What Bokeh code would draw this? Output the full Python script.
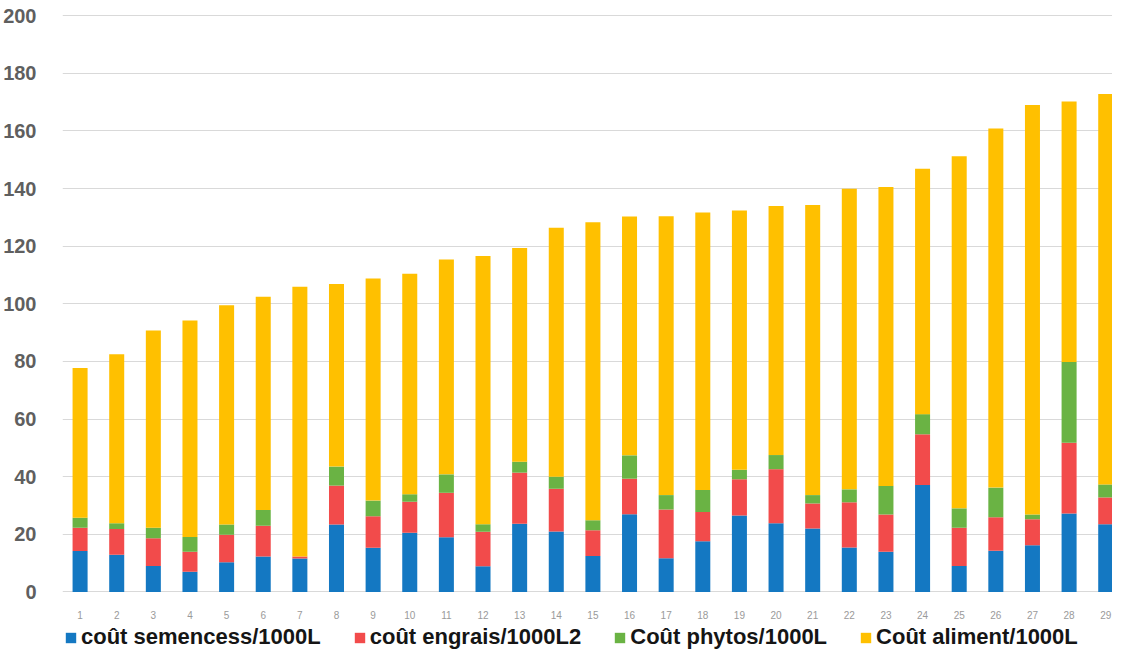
from bokeh.plotting import figure
from bokeh.layouts import column
from bokeh.models import ColumnDataSource, Range1d, Legend, LegendItem, FixedTicker
from bokeh.embed import file_html
from bokeh.resources import INLINE

categories = list(range(1, 30))
semences = [14.2, 12.9, 9.0, 7.0, 10.3, 12.3, 11.6, 23.4, 15.3, 20.5,
            19.0, 8.9, 23.7, 21.0, 12.5, 27.0, 11.7, 17.6, 26.5, 23.8,
            22.0, 15.4, 13.9, 37.1, 9.0, 14.3, 16.2, 27.2, 23.5]
engrais = [8.1, 8.9, 9.6, 6.9, 9.5, 10.7, 0.7, 13.5, 11.0, 10.8,
           15.4, 12.0, 17.7, 14.8, 8.9, 12.3, 16.9, 10.1, 12.6, 18.8,
           8.7, 15.7, 13.0, 17.6, 13.3, 11.6, 9.0, 24.6, 9.3]
phytos = [3.4, 2.0, 3.7, 5.2, 3.6, 5.4, 0.0, 6.6, 5.4, 2.6,
          6.4, 2.6, 3.8, 4.2, 3.5, 8.1, 5.0, 7.7, 3.3, 4.9,
          2.9, 4.5, 9.9, 7.0, 6.7, 10.3, 1.7, 28.0, 4.5]
aliment = [52.0, 58.7, 68.4, 75.1, 76.1, 74.0, 93.6, 63.4, 77.1, 76.5,
           74.6, 93.1, 74.2, 86.4, 103.4, 82.9, 96.8, 96.3, 90.0, 86.4,
           100.7, 104.3, 103.7, 85.2, 122.2, 124.6, 142.1, 90.4, 135.5]
series_names = ["coût semencess/1000L", "coût engrais/1000L2",
                "Coût phytos/1000L", "Coût aliment/1000L"]
y_ticks = [0, 20, 40, 60, 80, 100, 120, 140, 160, 180, 200]

colors = ["#1478C2", "#F24B4B", "#6AB344", "#FFC000"]

src = ColumnDataSource(dict(x=categories, s=semences, e=engrais, p=phytos, a=aliment))

p = figure(width=1112, height=624, output_backend="svg", toolbar_location=None,
           x_range=Range1d(0.52, 29.185), y_range=Range1d(-0.2, 200.4),
           min_border_left=60, min_border_right=0, min_border_top=14,
           min_border_bottom=32)

renderers = p.vbar_stack(["s", "e", "p", "a"], x="x", width=0.41,
                         color=colors, line_width=0, source=src)

p.outline_line_color = None
p.background_fill_color = "white"
p.border_fill_color = "white"
p.xgrid.grid_line_color = None
p.ygrid.grid_line_color = "#D9D9D9"
p.ygrid.grid_line_width = 1

p.xaxis.ticker = FixedTicker(ticks=categories)
p.yaxis.ticker = FixedTicker(ticks=y_ticks)
for ax in (p.xaxis, p.yaxis):
    ax.axis_line_color = None
    ax.major_tick_line_color = None
    ax.minor_tick_line_color = None

p.yaxis.major_label_text_font = "Liberation Sans"
p.yaxis.major_label_text_font_style = "bold"
p.yaxis.major_label_text_font_size = "20px"
p.yaxis.major_label_text_color = "#5F5F5F"
p.yaxis.major_label_standoff = 20

p.xaxis.major_label_text_font = "Liberation Sans"
p.xaxis.major_label_text_font_size = "10px"
p.xaxis.major_label_text_color = "#9A9A9A"
p.xaxis.major_label_standoff = 12

# Legend strip below the chart (frame aligned with the chart's frame by the column layout)
lf = figure(width=1112, height=26, output_backend="svg", toolbar_location=None,
            x_range=Range1d(0, 1), y_range=Range1d(0, 1),
            x_axis_type=None, y_axis_type=None, min_border=0)
lf.outline_line_color = None
lf.xgrid.grid_line_color = None
lf.ygrid.grid_line_color = None
dummies = [lf.vbar(x=[-5], top=[-5], width=0.1, color=c, line_width=0) for c in colors]

legend = Legend(items=[LegendItem(label=n, renderers=[r]) for n, r in zip(series_names, dummies)],
                orientation="horizontal", location=(2, 0),
                border_line_color=None, background_fill_alpha=0,
                padding=0, margin=0, spacing=32, label_standoff=4,
                glyph_width=13, glyph_height=13, label_height=22,
                label_text_font="Liberation Sans", label_text_font_style="bold",
                label_text_font_size="22px", label_text_color="#151515")
lf.add_layout(legend, "center")

layout = column(p, lf, spacing=0)
open("out.html", "w").write(file_html(layout, INLINE))
